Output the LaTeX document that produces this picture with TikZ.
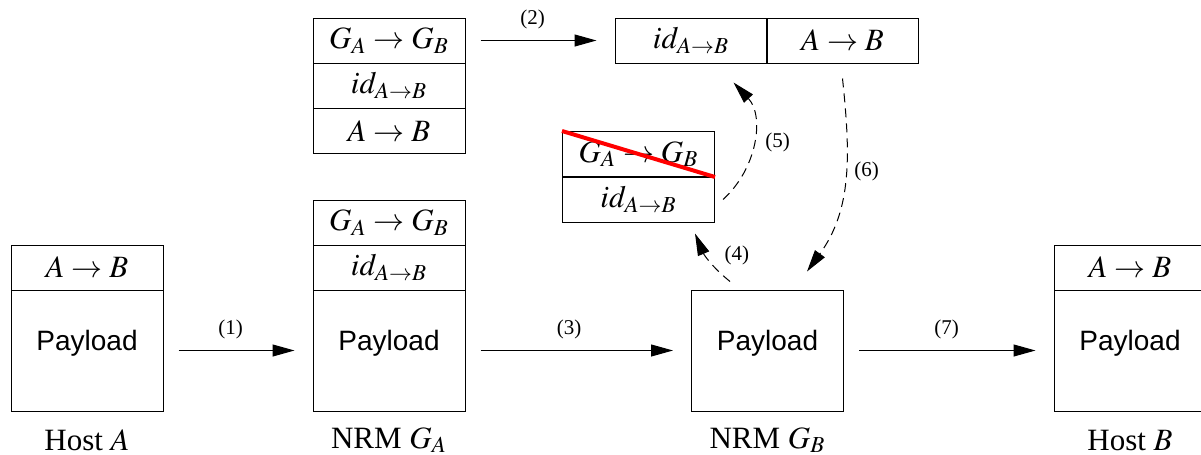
\documentclass[tikz,border=0pt,12pt]{standalone}
\usepackage{mathptmx}
\usepackage[no-math]{fontspec}
\setmainfont{Liberation Serif}
\newfontfamily\payloadfont{Liberation Sans}
\usetikzlibrary{arrows.meta}
\tikzset{wire/.style={line width=0.5pt}}
\tikzset{cell/.style={draw, line width=0.5pt, minimum width=76pt, minimum height=22.5pt, inner sep=0pt, font=\fontsize{15.5}{18}\selectfont}}
\tikzset{payload/.style={cell, minimum height=60.5pt, text depth=10pt, font=\fontsize{14}{17}\selectfont\payloadfont}}
\tikzset{hop/.style={wire, -{Triangle[length=11pt,width=6pt]}, shorten <=7.5pt, shorten >=9pt}}
\tikzset{lookup/.style={wire, dash pattern=on 4.5pt off 3pt, -{Triangle[length=11pt,width=6pt]}}}
\tikzset{numlabel/.style={font=\fontsize{10.5}{12}\selectfont}}
\tikzset{strike/.style={red, line width=2pt}}
\tikzset{caption/.style={inner sep=0pt, font=\fontsize{15.5}{18}\selectfont}}

\begin{document}
\begin{tikzpicture}[x=0.5pt, y=-0.5pt]
\useasboundingbox (0,0) rectangle (1201,455);
\node[cell] (hostAhdr) at (87,267.5) {$A \rightarrow B$};
\node[payload] (hostApl) at (87,350.5) {Payload};
\node[caption] (hostAcap) at (87,440) {Host $A$};
\node[cell] (nrmAgw) at (389,222.5) {$G_A \rightarrow G_B$};
\node[cell] (nrmAid) at (389,267.5) {$id_{A \rightarrow B}$};
\node[payload] (nrmApl) at (389,350.5) {Payload};
\node[caption] (nrmAcap) at (389,440) {NRM $G_A$};
\node[cell] (regGw) at (389,40.5) {$G_A \rightarrow G_B$};
\node[cell] (regId) at (389,85.5) {$id_{A \rightarrow B}$};
\node[cell] (regAB) at (389,131) {$A \rightarrow B$};
\node[cell] (tabId) at (691,40.5) {$id_{A \rightarrow B}$};
\node[cell] (tabAB) at (842.5,40.5) {$A \rightarrow B$};
\node[cell] (inGw) at (638.5,154) {$G_A \rightarrow G_B$};
\node[cell] (inId) at (638.5,199.5) {$id_{A \rightarrow B}$};
\draw[strike] (inGw.north west) -- (inGw.south east);
\node[payload] (nrmBpl) at (767.5,350.5) {Payload};
\node[caption] (nrmBcap) at (767.5,440) {NRM $G_B$};
\node[cell] (hostBhdr) at (1130,267.5) {$A \rightarrow B$};
\node[payload] (hostBpl) at (1130,350.5) {Payload};
\node[caption] (hostBcap) at (1130,440) {Host $B$};

\draw[hop] (hostApl) -- node[numlabel, above=1.5pt, pos=0.45] (n1) {(1)} (nrmApl);
\draw[hop] (regGw) -- node[numlabel, above=1.5pt, pos=0.45] (n2) {(2)} (tabId);
\draw[hop] (nrmApl) -- node[numlabel, above=1.5pt, pos=0.46] (n3) {(3)} (nrmBpl);
\draw[hop] (nrmBpl) -- node[numlabel, above=1.5pt, pos=0.49] (n7) {(7)} (hostBpl);
\draw[lookup] ([xshift=-18.75pt,yshift=4pt]nrmBpl.north) to[out=141,in=-67] node[numlabel, right=5pt, pos=0.6] (n4) {(4)} ([xshift=-10pt,yshift=-5.5pt]inId.south east);
\draw[lookup] ([xshift=4pt]inId.east) to[out=42,in=-47] node[numlabel, right=2pt, pos=0.5] (n5) {(5)} ([xshift=-17pt,yshift=-9.5pt]tabId.south east);
\draw[lookup] ([yshift=-7.5pt]tabAB.south) to[out=-84,in=54] node[numlabel, right=0pt, pos=0.45] (n6) {(6)} ([xshift=19.75pt,yshift=9pt]nrmBpl.north);
\end{tikzpicture}
\end{document}
